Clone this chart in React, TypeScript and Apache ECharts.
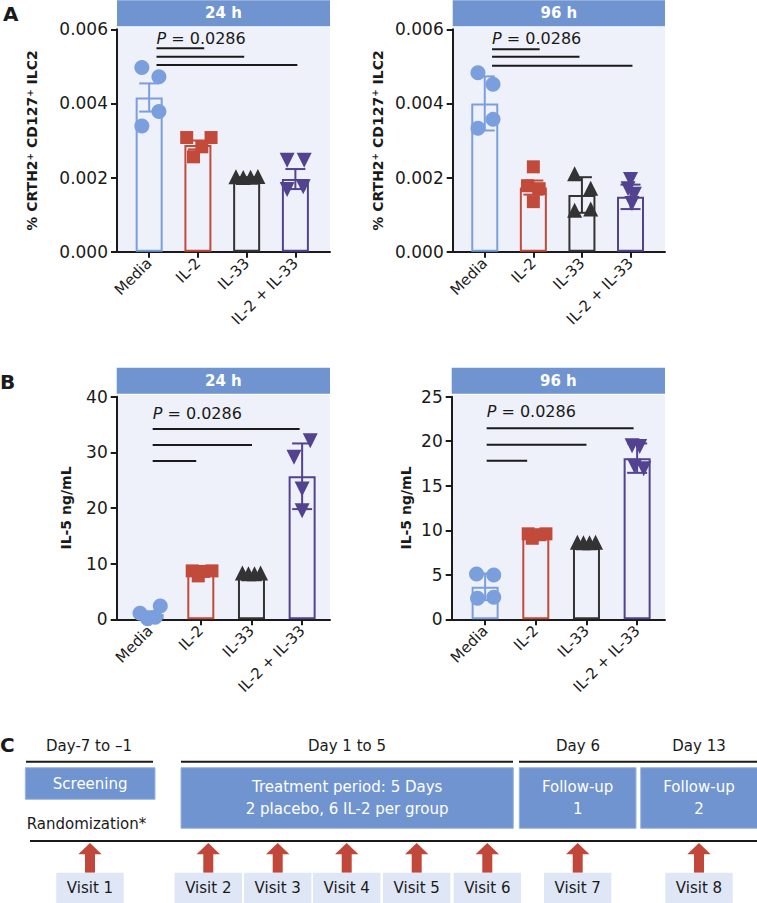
import React, { useEffect, useRef } from "react";
import * as echarts from "echarts";

// ---------------- DATA ----------------
const GROUPS = ["Media", "IL-2", "IL-33", "IL-2 + IL-33"];
const P_VALUE = "0.0286";

// Panel A – % CRTH2+ CD127+ ILC2, 24 h
const A24_MEAN = [0.00416, 0.00288, 0.00197, 0.00196];
const A24_ERR = [0.00038, 0.00012, 0.00004, 0.00027];
const A24_POINTS = [
  [0.00497, 0.00472, 0.00378, 0.00339],
  [0.00308, 0.00308, 0.00283, 0.00256],
  [0.00202, 0.002, 0.00201, 0.00203],
  [0.00247, 0.00247, 0.00168, 0.00175],
];
const A24_SIG_Y = [0.00549, 0.00526, 0.00504];
const A24_P_Y = 0.00576;

// Panel A – 96 h
const A96_MEAN = [0.004, 0.00173, 0.00153, 0.00148];
const A96_ERR = [0.00073, 0.00019, 0.00048, 0.00033];
const A96_POINTS = [
  [0.00483, 0.00452, 0.00357, 0.00333],
  [0.00229, 0.00178, 0.0017, 0.00135],
  [0.0021, 0.00171, 0.00112, 0.00115],
  [0.00195, 0.0017, 0.00155, 0.0013],
];
const A96_SIG_Y = [0.00546, 0.00526, 0.00502];
const A96_P_Y = 0.00576;

// Panel B – IL-5 ng/mL, 24 h
const B24_MEAN = [0.95, 8.4, 7.5, 25.7];
const B24_ERR = [0.5, 0.2, 0.15, 5.9];
const B24_POINTS = [
  [2.4, 1.1, 0.1, 0.35],
  [8.7, 8.7, 7.8, 8.6],
  [8.3, 8.2, 8.2, 8.3],
  [32.1, 29.1, 23.4, 19.5],
];
const B24_SIG_Y = [28.45, 31.3, 34.2];
const B24_P_Y = 37.0;

// Panel B – 96 h
const B96_MEAN = [3.65, 9.3, 8.0, 18.1];
const B96_ERR = [1.5, 0.15, 0.1, 1.65];
const B96_POINTS = [
  [5.09, 4.97, 2.36, 2.47],
  [9.6, 9.6, 9.1, 9.5],
  [8.65, 8.6, 8.6, 8.65],
  [19.5, 19.4, 17.2, 16.9],
];
const B96_SIG_Y = [17.8, 19.6, 21.45];
const B96_P_Y = 23.3;

// Panel C – study design
const PERIOD_LABELS = ["Day-7 to –1", "Day 1 to 5", "Day 6", "Day 13"];
const PHASE_LABELS = [
  "Screening",
  "Treatment period: 5 Days\n2 placebo, 6 IL-2 per group",
  "Follow-up\n1",
  "Follow-up\n2",
];
const VISIT_LABELS = ["Visit 1", "Visit 2", "Visit 3", "Visit 4", "Visit 5", "Visit 6", "Visit 7", "Visit 8"];
const RANDOMIZATION_LABEL = "Randomization*";

// ---------------- STYLE / LAYOUT ----------------
const FONT = "DejaVu Sans";
const INK = "#1a1a1a";
const HEADER_BLUE = "#7094d0";
const PLOT_BG = "#eef1fa";
const VISIT_BG = "#dfe6f6";
const ARROW_RED = "#c0473a";
const COLORS = ["#7a9fdc", "#c24a3a", "#333333", "#52428f"];
const SYMBOLS = [
  { symbol: "circle", size: 15, rotate: 0 },
  { symbol: "rect", size: 13, rotate: 0 },
  { symbol: "triangle", size: 15, rotate: 0 },
  { symbol: "triangle", size: 15, rotate: 180 },
];

const PANELS = [
  {
    header: "24 h",
    grid: { left: 117, top: 29.3, width: 213, height: 222.4 },
    xMin: -0.66, xMax: 3.71, yMax: 0.006, yInterval: 0.002, dec: 3,
    name: "% CRTH2{s|+} CD127{s|+} ILC2", nameGap: 78,
    mean: A24_MEAN, err: A24_ERR, pts: A24_POINTS, sigY: A24_SIG_Y, pY: A24_P_Y,
    sigStart: 0.15, sigEnd: [1.13, 1.95, 3.04],
    jitter: [[-0.15, 0.2, 0.2, -0.15], [-0.23, 0.27, 0.08, -0.09], [-0.22, -0.07, 0.08, 0.23], [-0.17, 0.18, -0.17, 0.16]],
  },
  {
    header: "96 h",
    grid: { left: 452.7, top: 29.3, width: 212.3, height: 222.4 },
    xMin: -0.66, xMax: 3.71, yMax: 0.006, yInterval: 0.002, dec: 3,
    name: "% CRTH2{s|+} CD127{s|+} ILC2", nameGap: 68,
    mean: A96_MEAN, err: A96_ERR, pts: A96_POINTS, sigY: A96_SIG_Y, pY: A96_P_Y,
    sigStart: 0.15, sigEnd: [1.13, 1.95, 3.04],
    jitter: [[-0.14, 0.17, 0.17, -0.14], [0, -0.12, 0.12, 0], [-0.15, 0.18, -0.15, 0.18], [0, -0.05, 0.08, 0.03]],
  },
  {
    header: "24 h",
    grid: { left: 116.7, top: 396.7, width: 213.3, height: 222.6 },
    xMin: -0.66, xMax: 3.55, yMax: 40, yInterval: 10, dec: 0,
    name: "IL-5 ng/mL", nameGap: 44,
    mean: B24_MEAN, err: B24_ERR, pts: B24_POINTS, sigY: B24_SIG_Y, pY: B24_P_Y,
    sigStart: 0.05, sigEnd: [0.91, 2.01, 2.95],
    jitter: [[0.2, -0.2, -0.05, 0.1], [-0.17, 0.22, -0.05, 0.05], [-0.18, -0.06, 0.06, 0.18], [0.16, -0.16, 0, 0]],
  },
  {
    header: "96 h",
    grid: { left: 451.7, top: 396.7, width: 213.3, height: 222.6 },
    xMin: -0.66, xMax: 3.55, yMax: 25, yInterval: 5, dec: 0,
    name: "IL-5 ng/mL", nameGap: 39,
    mean: B96_MEAN, err: B96_ERR, pts: B96_POINTS, sigY: B96_SIG_Y, pY: B96_P_Y,
    sigStart: 0.03, sigEnd: [0.83, 2.0, 2.93],
    jitter: [[-0.17, 0.17, -0.15, 0.17], [-0.15, 0.2, -0.07, 0.08], [-0.18, -0.06, 0.06, 0.18], [-0.1, 0.05, -0.05, 0.13]],
  },
];

// Panel C layout
const PERIOD_X = [89, 347, 578, 699];
const PERIOD_LINES = [[26, 153], [181, 513], [519, 757]];
const PHASE_BOXES = [
  [25.3, 767.7, 129.7, 31.6],
  [181, 767.7, 332.3, 60.6],
  [519.3, 767.7, 116.7, 60.6],
  [640.7, 767.7, 120, 60.6],
];
const VISIT_X = [90, 208.3, 277.7, 346.7, 416.7, 487.3, 577.7, 699];

function buildOption() {
  const grids: any[] = [];
  const xAxes: any[] = [];
  const yAxes: any[] = [];
  const series: any[] = [];
  const graphic: any[] = [];

  PANELS.forEach((p, pi) => {
    grids.push({ ...p.grid, containLabel: false });
    xAxes.push({
      type: "value",
      gridIndex: pi,
      min: p.xMin,
      max: p.xMax,
      splitLine: { show: false },
      axisLine: { show: true, onZero: false, lineStyle: { color: INK, width: 2 } },
      axisTick: { show: true, customValues: [0, 1, 2, 3], length: 6, lineStyle: { color: INK, width: 2 } },
      axisLabel: {
        customValues: [0, 1, 2, 3],
        formatter: (v: number) => GROUPS[Math.round(v)] ?? "",
        rotate: 45,
        fontSize: 15,
        fontFamily: FONT,
        color: INK,
        margin: 9,
      },
    });
    yAxes.push({
      type: "value",
      gridIndex: pi,
      min: 0,
      max: p.yMax,
      interval: p.yInterval,
      splitLine: { show: false },
      axisLine: { show: true, onZero: false, lineStyle: { color: INK, width: 2 } },
      axisTick: { show: true, length: 6, lineStyle: { color: INK, width: 2 } },
      axisLabel: {
        formatter: (v: number) => v.toFixed(p.dec),
        fontSize: 17,
        fontFamily: FONT,
        color: INK,
        margin: 9,
      },
      name: p.name,
      nameLocation: "middle",
      nameGap: p.nameGap,
      nameTextStyle: {
        fontSize: 14,
        fontWeight: "bold",
        fontFamily: FONT,
        color: INK,
        rich: { s: { fontSize: 9, fontWeight: "bold", fontFamily: FONT, color: INK, verticalAlign: "top" } },
      },
    });

    // header + background
    graphic.push({
      type: "rect",
      silent: true,
      z: -10,
      shape: { x: p.grid.left, y: p.grid.top - 2, width: p.grid.width, height: p.grid.height + 2 },
      style: { fill: PLOT_BG },
    });
    graphic.push({
      type: "rect",
      silent: true,
      shape: { x: p.grid.left, y: p.grid.top - 29, width: p.grid.width, height: 26 },
      style: { fill: HEADER_BLUE },
    });
    graphic.push({
      type: "text",
      silent: true,
      x: p.grid.left + p.grid.width / 2,
      y: p.grid.top - 16,
      style: {
        text: p.header,
        fill: "#ffffff",
        fontSize: 15,
        fontWeight: "bold",
        fontFamily: FONT,
        align: "center",
        verticalAlign: "middle",
      },
    });

    // bars
    series.push({
      type: "bar",
      xAxisIndex: pi,
      yAxisIndex: pi,
      barWidth: 27,
      z: 2,
      data: p.mean.map((m, i) => ({
        value: [i, m],
        itemStyle: { color: "rgba(0,0,0,0)", borderColor: COLORS[i], borderWidth: 2 },
      })),
    });

    // points
    p.pts.forEach((vals, i) => {
      series.push({
        type: "scatter",
        xAxisIndex: pi,
        yAxisIndex: pi,
        clip: false,
        z: 3,
        symbol: SYMBOLS[i].symbol,
        symbolSize: SYMBOLS[i].size,
        symbolRotate: SYMBOLS[i].rotate,
        itemStyle: { color: COLORS[i], opacity: 1 },
        data: vals.map((v, k) => [i + p.jitter[i][k], v]),
      });
    });

    // error bars
    series.push({
      type: "custom",
      xAxisIndex: pi,
      yAxisIndex: pi,
      z: 4,
      clip: false,
      data: p.mean.map((m, i) => [i, m, p.err[i]]),
      renderItem: (params: any, api: any) => {
        const x = api.value(0);
        const m = api.value(1);
        const e = api.value(2);
        const top = api.coord([x, m + e]);
        const bot = api.coord([x, m - e]);
        const c = COLORS[params.dataIndex];
        const st = { stroke: c, lineWidth: 2 };
        const hw = 10;
        return {
          type: "group",
          children: [
            { type: "line", shape: { x1: top[0], y1: top[1], x2: bot[0], y2: bot[1] }, style: st },
            { type: "line", shape: { x1: top[0] - hw, y1: top[1], x2: top[0] + hw, y2: top[1] }, style: st },
            { type: "line", shape: { x1: bot[0] - hw, y1: bot[1], x2: bot[0] + hw, y2: bot[1] }, style: st },
          ],
        };
      },
    });

    // significance lines
    series.push({
      type: "custom",
      xAxisIndex: pi,
      yAxisIndex: pi,
      z: 4,
      encode: { x: [0, 1], y: 2 },
      data: p.sigY.map((y, k) => [p.sigStart, p.sigEnd[k], y]),
      renderItem: (_params: any, api: any) => {
        const a = api.coord([api.value(0), api.value(2)]);
        const b = api.coord([api.value(1), api.value(2)]);
        return {
          type: "line",
          shape: { x1: a[0], y1: a[1], x2: b[0], y2: b[1] },
          style: { stroke: INK, lineWidth: 2 },
        };
      },
    });

    // P value label
    series.push({
      type: "custom",
      xAxisIndex: pi,
      yAxisIndex: pi,
      z: 5,
      data: [[p.sigStart, p.pY]],
      renderItem: (_params: any, api: any) => {
        const pt = api.coord([api.value(0), api.value(1)]);
        return {
          type: "text",
          x: pt[0],
          y: pt[1],
          style: {
            text: "{i|P} = " + P_VALUE,
            fill: INK,
            fontSize: 16,
            fontFamily: FONT,
            align: "left",
            verticalAlign: "middle",
            rich: { i: { fontStyle: "italic", fontSize: 16, fontFamily: FONT, fill: INK } },
          },
        };
      },
    });
  });

  // panel letters
  const letters = [
    ["A", 3, 4],
    ["B", 0, 372],
    ["C", 0, 735],
  ];
  letters.forEach(([t, x, y]) =>
    graphic.push({
      type: "text",
      silent: true,
      x,
      y,
      style: { text: t, fill: INK, fontSize: 20, fontWeight: "bold", fontFamily: FONT, align: "left", verticalAlign: "top" },
    })
  );

  // ---- Panel C ----
  PERIOD_LABELS.forEach((t, i) =>
    graphic.push({
      type: "text",
      silent: true,
      x: PERIOD_X[i],
      y: 746,
      style: { text: t, fill: INK, fontSize: 15, fontFamily: FONT, align: "center", verticalAlign: "middle" },
    })
  );
  PERIOD_LINES.forEach(([a, b]) =>
    graphic.push({
      type: "line",
      silent: true,
      shape: { x1: a, y1: 761.7, x2: b, y2: 761.7 },
      style: { stroke: INK, lineWidth: 2 },
    })
  );
  PHASE_LABELS.forEach((t, i) => {
    const [x, y, w, h] = PHASE_BOXES[i];
    graphic.push({
      type: "rect",
      silent: true,
      shape: { x, y, width: w, height: h },
      style: { fill: HEADER_BLUE, stroke: "#9db4e0", lineWidth: 1 },
    });
    graphic.push({
      type: "text",
      silent: true,
      x: i === 3 ? 699 : x + w / 2,
      y: y + h / 2,
      style: {
        text: t,
        fill: "#ffffff",
        fontSize: 15,
        lineHeight: 22,
        fontFamily: FONT,
        align: "center",
        verticalAlign: "middle",
      },
    });
  });
  graphic.push({
    type: "text",
    silent: true,
    x: 26.7,
    y: 824,
    style: { text: RANDOMIZATION_LABEL, fill: INK, fontSize: 15, fontFamily: FONT, align: "left", verticalAlign: "middle" },
  });
  graphic.push({
    type: "line",
    silent: true,
    shape: { x1: 30, y1: 841, x2: 757, y2: 841 },
    style: { stroke: INK, lineWidth: 2 },
  });
  VISIT_LABELS.forEach((t, i) => {
    const cx = VISIT_X[i];
    graphic.push({
      type: "polygon",
      silent: true,
      shape: {
        points: [
          [cx, 843],
          [cx + 11.7, 854.3],
          [cx + 5, 854.3],
          [cx + 5, 872.7],
          [cx - 5, 872.7],
          [cx - 5, 854.3],
          [cx - 11.7, 854.3],
        ],
      },
      style: { fill: ARROW_RED },
    });
    graphic.push({
      type: "rect",
      silent: true,
      shape: { x: cx - 33.7, y: 872.7, width: 67.4, height: 32 },
      style: { fill: VISIT_BG },
    });
    graphic.push({
      type: "text",
      silent: true,
      x: cx,
      y: 887.5,
      style: { text: t, fill: INK, fontSize: 15, fontFamily: FONT, align: "center", verticalAlign: "middle" },
    });
  });

  return {
    animation: false,
    backgroundColor: "#ffffff",
    textStyle: { fontFamily: FONT },
    grid: grids,
    xAxis: xAxes,
    yAxis: yAxes,
    series,
    graphic: { elements: graphic },
  };
}

export default function App() {
  const ref = useRef<HTMLDivElement>(null);
  useEffect(() => {
    if (!ref.current) return;
    const chart = echarts.init(ref.current, null, { renderer: "svg" });
    chart.setOption(buildOption() as any);
    return () => chart.dispose();
  }, []);
  return (
    <div
      ref={ref}
      style={{ position: "fixed", left: 0, top: 0, width: 757, height: 903, background: "#fff" }}
    />
  );
}
